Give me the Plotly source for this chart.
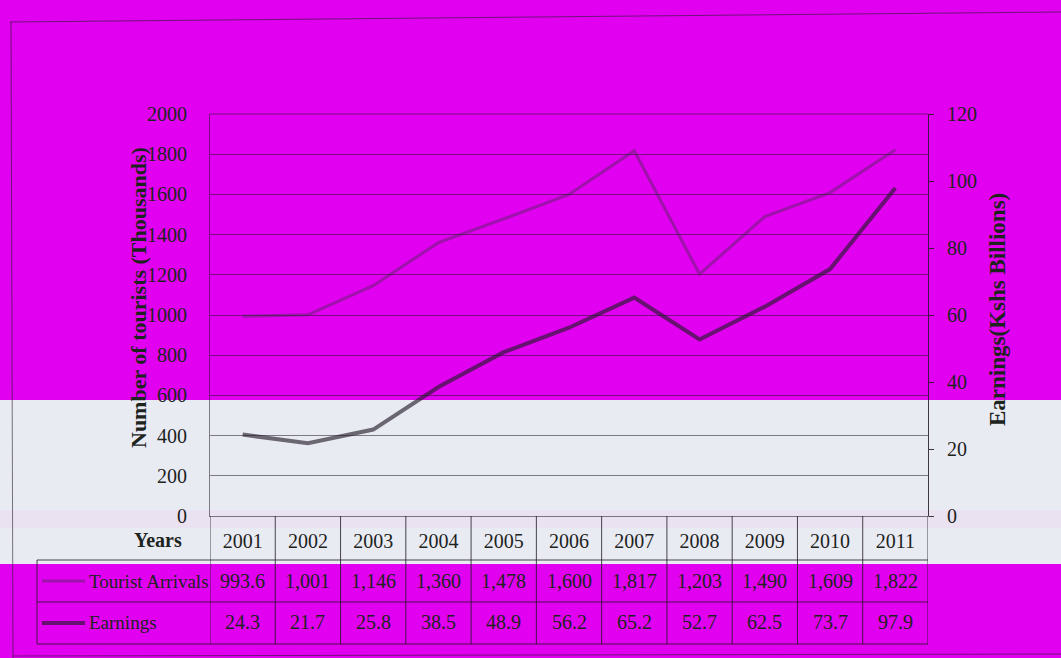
import plotly.graph_objects as go

# Kenya tourism: arrivals (thousands) and earnings (Kshs billions), 2001-2011
years = [2001, 2002, 2003, 2004, 2005, 2006, 2007, 2008, 2009, 2010, 2011]
tourist_arrivals = [993.6, 1001, 1146, 1360, 1478, 1600, 1817, 1203, 1490, 1609, 1822]
earnings = [24.3, 21.7, 25.8, 38.5, 48.9, 56.2, 65.2, 52.7, 62.5, 73.7, 97.9]

row_labels = ["Tourist Arrivals", "Earnings"]
left_title = "Number of tourists (Thousands)"
right_title = "Earnings(Kshs Billions)"

W, H = 1061, 658
L, R, T, B = 210, 928, 114, 516  # plot-area edges in pixels

MAGENTA = "#E100F0"
BAND = "#E9EBF3"
INK = "#1d231d"
GRID = "rgba(35,25,40,0.55)"
ARR_COL = "rgba(60,45,70,0.40)"
EARN_COL = "rgba(35,28,40,0.64)"
FONT = "Liberation Serif"


def px(x):
    return (x - L) / (R - L)


def py(y):
    return (B - y) / (B - T)


def fmt_arrivals(v):
    return f"{v:.1f}" if v < 1000 else f"{v:,.0f}"


def note(x, y, text, size=20, xref="paper", xanchor="center", angle=0):
    return dict(x=x, y=y, xref=xref, yref="paper", text=text, showarrow=False,
                xanchor=xanchor, yanchor="middle", textangle=angle,
                font=dict(family=FONT, size=size, color=INK))


fig = go.Figure()
fig.add_trace(go.Scatter(x=years, y=tourist_arrivals, mode="lines", name=row_labels[0],
                         line=dict(color=ARR_COL, width=3), yaxis="y"))
fig.add_trace(go.Scatter(x=years, y=earnings, mode="lines", name=row_labels[1],
                         line=dict(color=EARN_COL, width=4), yaxis="y2"))

shapes = []
# light band across the middle of the sheet
shapes.append(dict(type="rect", xref="paper", yref="paper", x0=px(0), x1=px(W),
                   y0=py(564), y1=py(400), fillcolor=BAND, line=dict(width=0), layer="below"))
shapes.append(dict(type="rect", xref="paper", yref="paper", x0=px(0), x1=px(W),
                   y0=py(528), y1=py(510), fillcolor="rgba(238,214,240,0.45)",
                   line=dict(width=0), layer="below"))

# outer frame of the sheet
frame = dict(color="rgba(40,30,45,0.6)", width=1)
shapes.append(dict(type="line", xref="paper", yref="paper", x0=px(10), x1=px(W), y0=py(22), y1=py(12), line=frame))
shapes.append(dict(type="line", xref="paper", yref="paper", x0=px(11), x1=px(13), y0=py(22), y1=py(658), line=frame))
shapes.append(dict(type="line", xref="paper", yref="paper", x0=px(13), x1=px(W), y0=py(656), y1=py(654), line=frame))

# top border of the plot area
shapes.append(dict(type="line", xref="paper", yref="paper", x0=0, x1=1, y0=1, y1=1, line=dict(color=GRID, width=1)))

# data table under the chart
tline = dict(color="rgba(30,25,30,0.8)", width=1)
row_edges = [560, 602, 644]
for ry in row_edges:
    shapes.append(dict(type="line", xref="paper", yref="paper", x0=px(37), x1=1,
                       y0=py(ry), y1=py(ry), line=tline))
for i in range(len(years) + 1):
    xb = years[0] - 0.5 + i
    shapes.append(dict(type="line", xref="x", yref="paper", x0=xb, x1=xb,
                       y0=py(B), y1=py(644), line=tline))
shapes.append(dict(type="line", xref="paper", yref="paper", x0=px(37), x1=px(37),
                   y0=py(560), y1=py(644), line=tline))
# legend keys inside the table
shapes.append(dict(type="line", xref="paper", yref="paper", x0=px(42), x1=px(85),
                   y0=py(581), y1=py(581), line=dict(color=ARR_COL, width=3)))
shapes.append(dict(type="line", xref="paper", yref="paper", x0=px(42), x1=px(85),
                   y0=py(623), y1=py(623), line=dict(color=EARN_COL, width=4)))

annotations = []
for yr, a, e in zip(years, tourist_arrivals, earnings):
    annotations.append(note(yr, py(581), fmt_arrivals(a), xref="x"))
    annotations.append(note(yr, py(622), f"{e:.1f}", xref="x"))
annotations.append(note(px(87), py(581), row_labels[0], size=19, xanchor="left"))
annotations.append(note(px(87), py(622), row_labels[1], size=19, xanchor="left"))
annotations.append(note(px(184), py(540), "<b>Years</b>", xanchor="right"))
annotations.append(note(px(138), py(298), f"<b>{left_title}</b>", size=22, angle=-90))
annotations.append(note(px(997), py(310), f"<b>{right_title}</b>", size=23, angle=-90))

fig.update_layout(
    width=W, height=H,
    margin=dict(l=L, r=W - R, t=T, b=H - B),
    paper_bgcolor=MAGENTA,
    plot_bgcolor="rgba(0,0,0,0)",
    showlegend=False,
    font=dict(family=FONT, color=INK),
    xaxis=dict(range=[years[0] - 0.5, years[-1] + 0.5], tickvals=years,
               ticktext=[str(y) for y in years], showgrid=False, zeroline=False,
               showline=True, linecolor=GRID, linewidth=1, ticks="",
               tickfont=dict(family=FONT, size=20, color=INK), ticklabelstandoff=7),
    yaxis=dict(range=[0, 2000], dtick=200, showgrid=True, gridcolor=GRID, gridwidth=1,
               zeroline=False, showline=True, linecolor=GRID, linewidth=1, ticks="",
               tickfont=dict(family=FONT, size=20, color=INK), ticklabelstandoff=18),
    yaxis2=dict(range=[0, 120], dtick=20, overlaying="y", side="right", showgrid=False,
                zeroline=False, showline=True, linecolor="rgba(30,25,30,0.85)", linewidth=1,
                ticks="outside", ticklen=5, tickcolor="rgba(30,25,30,0.85)",
                tickfont=dict(family=FONT, size=20, color=INK), ticklabelstandoff=9),
    shapes=shapes,
    annotations=annotations,
)

fig.write_html("out.html")
